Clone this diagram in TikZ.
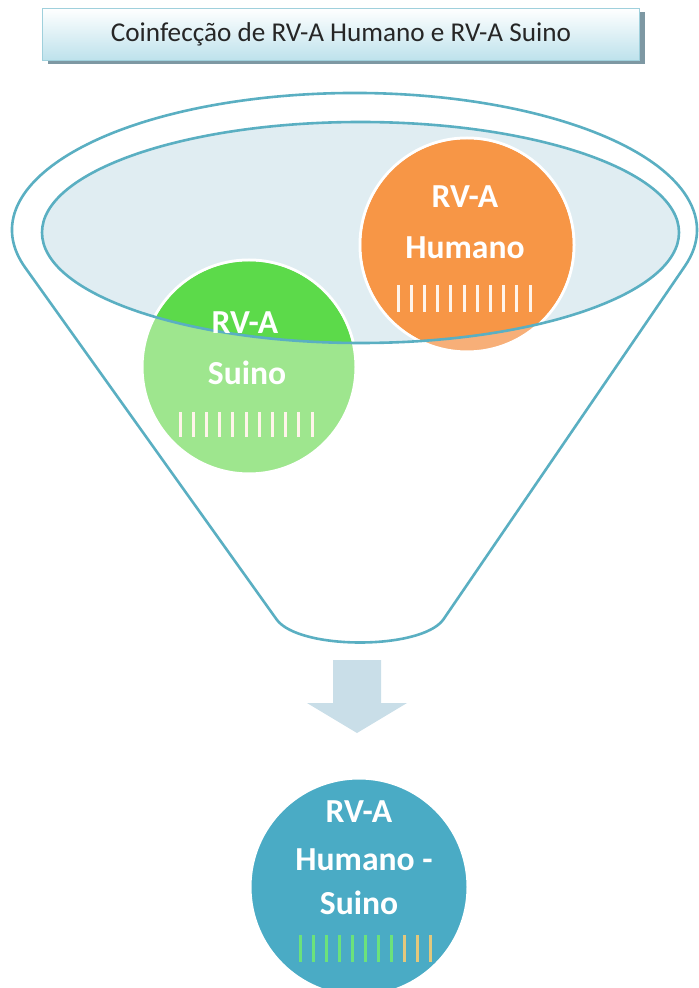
\documentclass[tikz,border=0pt]{standalone}
\usepackage{fontspec}
\setmainfont{Carlito}
\definecolor{funnelline}{HTML}{5AAFC2}
\definecolor{innerfill}{HTML}{E0EDF2}
\definecolor{orangeC}{HTML}{F79646}
\definecolor{orangeL}{HTML}{F7AF78}
\definecolor{greenC}{HTML}{5CDA4A}
\definecolor{greenL}{HTML}{9EE68E}
\definecolor{tealC}{HTML}{4AABC5}
\definecolor{arrowC}{HTML}{C9DEE8}
\definecolor{titlebot}{HTML}{BEE2EC}
\definecolor{titleline}{HTML}{9FD0DC}
\definecolor{shadowC}{HTML}{7E98A3}
\definecolor{barG}{HTML}{6BE27A}
\definecolor{barY}{HTML}{E2C87C}
\definecolor{barW}{HTML}{FFF4EA}
\definecolor{titletext}{HTML}{262626}
\begin{document}
\begin{tikzpicture}[x=0.5pt,y=-0.5pt,
  circtext/.style={font=\bfseries\fontsize{16.8}{18}\selectfont, text=white, inner sep=0pt},
  barline/.style={line width=1.5pt},
  outline/.style={draw=funnelline, line width=1.3pt},
  blob/.style={circle, draw=white, line width=1.5pt, inner sep=0pt}]
\useasboundingbox (0,0) rectangle (699,988);

% title box
\fill[shadowC] (48,12) rectangle (645,64);
\node[draw=titleline, top color=white, bottom color=titlebot,
      minimum width=298.5pt, minimum height=26pt, inner sep=0pt,
      font=\fontsize{13.6}{15}\selectfont, text=titletext] (title) at (341,34)
      {Coinfecção de RV-A Humano e RV-A Suino};

% funnel body
\path[outline, fill=white] (25.2,267.6)
  arc[start angle=164.07, end angle=375.33, x radius=342.5, y radius=137]
  -- (443,620) .. controls (420,650) and (300,650) .. (277,620) -- cycle;

% funnel opening
\fill[innerfill] (360.5,232.5) ellipse[x radius=318.5, y radius=110.5];

% circles (light part)
\node[blob, fill=orangeL, minimum size=107pt] (hum) at (467,245) {};
\node[blob, fill=greenL, minimum size=107pt] (sui) at (249,367) {};

% circles (full colour inside the opening)
\begin{scope}
  \clip (360.5,232.5) ellipse[x radius=318.5, y radius=110.5];
  \fill[orangeC] (hum.center) circle[radius=105.5];
  \fill[greenC] (sui.center) circle[radius=105.5];
\end{scope}

\draw[outline] (360.5,232.5) ellipse[x radius=318.5, y radius=110.5];

% texts in circles
\node[circtext] (humA) at (465,197) {RV-A};
\node[circtext] (humB) at (465,248) {Humano};
\foreach \i in {0,...,10} \draw[barline, barW] (398+\i*13.2,285) -- (398+\i*13.2,312);

\node[circtext] (suiA) at (245,323) {RV-A};
\node[circtext] (suiB) at (247,373) {Suino};
\foreach \i in {0,...,10} \draw[barline, barW] (180+\i*13.2,412) -- (180+\i*13.2,437);

% arrow
\fill[arrowC] (333,660) -- (381,660) -- (381,703) -- (407,703) -- (357,733)
  -- (307,703) -- (333,703) -- cycle;

% result circle
\node[blob, fill=tealC, minimum size=109pt] (mix) at (359,887) {};
\node[circtext] (mixA) at (359,812) {RV-A};
\node[circtext] (mixB) at (364,860) {Humano -};
\node[circtext] (mixC) at (359,903) {Suino};
\foreach \i in {0,...,7} \draw[barline, barG] (300+\i*13,935) -- (300+\i*13,962);
\foreach \i in {8,9,10} \draw[barline, barY] (300+\i*13,935) -- (300+\i*13,962);
\end{tikzpicture}
\end{document}
